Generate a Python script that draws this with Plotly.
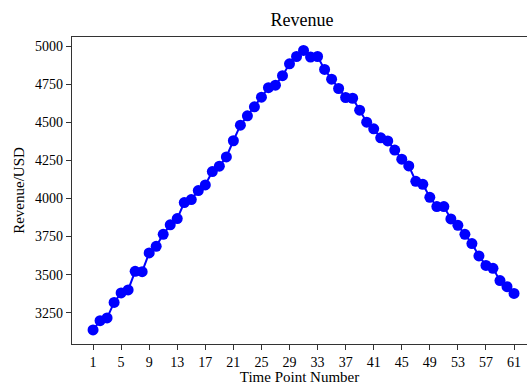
import plotly.graph_objects as go

# Revenue per time point
time_points = list(range(1, 62))
revenue = [
    3137, 3198, 3216, 3318, 3380, 3400, 3522, 3520, 3643, 3686,
    3765, 3827, 3868, 3973, 3993, 4052, 4089, 4177, 4212, 4273,
    4379, 4481, 4543, 4602, 4665, 4727, 4744, 4806, 4884, 4932,
    4972, 4928, 4932, 4847, 4783, 4722, 4663, 4658, 4580, 4501,
    4457, 4398, 4378, 4318, 4258, 4214, 4113, 4093, 4008, 3947,
    3947, 3866, 3824, 3765, 3704, 3623, 3561, 3542, 3461, 3421,
    3377,
]
x_ticks = list(range(1, 62, 4))
y_ticks = [3250, 3500, 3750, 4000, 4250, 4500, 4750, 5000]

font = "Liberation Serif, Times New Roman, serif"

fig = go.Figure(
    go.Scatter(
        x=time_points,
        y=revenue,
        mode="lines+markers",
        line=dict(color="#0000ff", width=2),
        marker=dict(color="#0000ff", size=11),
        showlegend=False,
    )
)

axis_common = dict(
    showgrid=False,
    zeroline=False,
    showline=True,
    linecolor="#333333",
    linewidth=1.2,
    ticks="outside",
    ticklen=5,
    tickwidth=1,
    tickcolor="#333333",
    tickfont=dict(family=font, size=14, color="black"),
)

fig.update_layout(
    width=527,
    height=385,
    margin=dict(l=72, r=0, t=37, b=41),
    paper_bgcolor="white",
    plot_bgcolor="white",
    font=dict(family=font, color="black"),
    title=dict(
        text="Revenue",
        x=(302 / 527),
        xanchor="center",
        y=1 - 20 / 385,
        yanchor="middle",
        font=dict(family=font, size=18, color="black"),
    ),
    xaxis=dict(
        axis_common,
        range=[-2, 62.85],
        tickvals=x_ticks,
        mirror=True,
        title=dict(text="Time Point Number", font=dict(family=font, size=15), standoff=3),
    ),
    yaxis=dict(
        axis_common,
        range=[3045, 5060],
        tickvals=y_ticks,
        title=dict(text="Revenue/USD", font=dict(family=font, size=15), standoff=6),
    ),
)

fig.write_html("out.html")
